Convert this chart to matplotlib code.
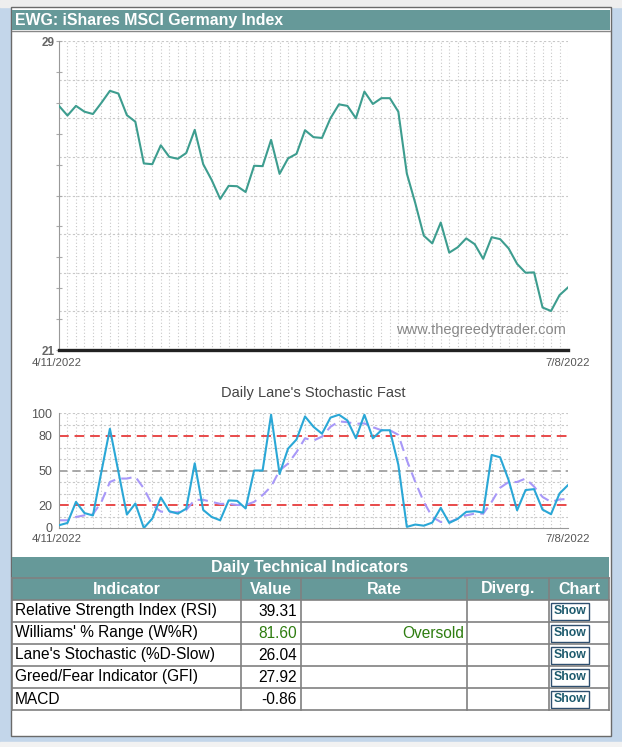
import numpy as np
import matplotlib.pyplot as plt
from matplotlib.patches import Rectangle

plt.rcParams['font.family'] = ['Liberation Sans', 'DejaVu Sans']

# Chart data, trading days 4/11/2022 .. 7/8/2022
title = 'EWG: iShares MSCI Germany Index'
start_date = '4/11/2022'
end_date = '7/8/2022'
price = [27.32, 27.07, 27.32, 27.17, 27.11, 27.40, 27.71, 27.64, 27.08, 26.91,
         25.83, 25.81, 26.30, 26.00, 25.95, 26.10, 26.70, 25.81, 25.40, 24.91,
         25.25, 25.24, 25.09, 25.77, 25.76, 26.44, 25.56, 25.96, 26.08, 26.69,
         26.51, 26.49, 27.00, 27.36, 27.32, 27.00, 27.69, 27.37, 27.52, 27.52,
         27.17, 25.57, 24.80, 23.96, 23.76, 24.30, 23.52, 23.66, 23.89, 23.74,
         23.36, 23.92, 23.87, 23.63, 23.23, 23.00, 23.01, 22.10, 22.01, 22.42, 22.62]
stoch_k = [2.4, 4.4, 22.7, 13, 10.9, 49, 86.3, 49, 11.7, 21.3,
           0, 8.2, 26.6, 14.6, 12.5, 16.8, 56.3, 15.7, 9.6, 6.7,
           24, 23.6, 17, 50, 50, 98.5, 47, 69, 77, 97,
           88, 82, 96, 98.5, 93.5, 78, 98.5, 78, 85, 85,
           55, 1, 3, 2, 4.7, 17.5, 4.4, 8, 14, 14.6,
           13.4, 63.5, 61.5, 41.7, 15.4, 33, 33.8, 16, 12, 30, 37.3]
stoch_d = [6.7, 6.7, 9.6, 11, 12, 22.7, 40, 43, 43, 44.6,
           34.4, 20, 14.3, 13.7, 13.7, 15.7, 24.5, 24.5, 22.7, 21,
           21, 20, 20, 22.7, 28.6, 36, 50, 56, 66, 78,
           76, 79.5, 88, 92.7, 92, 90.6, 91, 87.7, 85, 85,
           81, 59, 40, 22.7, 9.6, 5.2, 5.2, 8, 11, 12.5,
           12.5, 22.7, 35, 40, 40, 43, 36, 27, 22.7, 24.8, 25.3]

indicators = ['Relative Strength Index (RSI)', "Williams' % Range (W%R)",
              "Lane's Stochastic (%D-Slow)", 'Greed/Fear Indicator (GFI)', 'MACD']
values = ['39.31', '81.60', '26.04', '27.92', '-0.86']
rates = ['', 'Oversold', '', '', '']
headers = ['Indicator', 'Value', 'Rate', 'Diverg.', 'Chart']

W, H = 622, 747
TEAL = '#669999'
fig = plt.figure(figsize=(W / 100, H / 100), dpi=100)
fig.patch.set_facecolor('#c3d6ea')

# background layer in pixel coordinates
bg = fig.add_axes([0, 0, 1, 1])
bg.set_xlim(0, W)
bg.set_ylim(H, 0)
bg.axis('off')
bg.add_patch(Rectangle((0, 0), W, 7, color='#eeeeee'))
bg.add_patch(Rectangle((0, 742), W, 6, color='#f2f2f2'))
bg.add_patch(Rectangle((11, 7), 600, 729, facecolor='white', edgecolor='#6a6a6a', lw=1))
bg.add_patch(Rectangle((12, 10), 598, 20, facecolor=TEAL, edgecolor='none'))
bg.plot([12, 610], [30.5, 30.5], color='#888888', lw=1)
bg.text(15, 20, title, color='white', fontsize=11.4, fontweight='bold', va='center', ha='left')


def px_axes(x0, y0, x1, y1):
    return fig.add_axes([x0 / W, 1 - y1 / H, (x1 - x0) / W, (y1 - y0) / H])


x = np.arange(len(price))
grid_c = '#c8c8c8'

# price chart
ax = px_axes(59, 41, 568, 350)
ax.set_facecolor('none')
ax.set_xlim(0, len(price) - 1)
ax.set_ylim(21, 29)
for xi in x[1:]:
    ax.axvline(xi, color=grid_c, lw=0.8, ls=(0, (1, 2)), zorder=0)
for lvl in range(22, 30):
    ax.axhline(lvl, color=grid_c, lw=0.8, ls=(0, (2, 2)), zorder=0)
ax.plot(x, price, color='#3d9d8f', lw=1.5, zorder=3)
ax.spines[['top', 'right']].set_visible(False)
ax.spines['left'].set_color('#999999')
ax.spines['bottom'].set_color('#222222')
ax.spines['bottom'].set_linewidth(2.4)
ax.set_xticks([])
ax.set_yticks(np.linspace(21, 29, 11))
ax.set_yticklabels(['21'] + [''] * 9 + ['29'])
ax.tick_params(axis='y', direction='inout', length=4, color='#aaaaaa',
               labelsize=8.5, labelcolor='#666666', pad=1)
for lab in ax.get_yticklabels():
    lab.set_fontweight('bold')
ax.text(0.995, 0.065, 'www.thegreedytrader.com', transform=ax.transAxes, ha='right',
        va='center', fontsize=10.5, color='#888888')
bg.text(57, 362.5, start_date, ha='center', va='center', fontsize=8.2, color='#555555')
bg.text(590, 362.5, end_date, ha='right', va='center', fontsize=8.2, color='#555555')

# stochastic chart
bg.text(313, 393, "Daily Lane's Stochastic Fast", ha='center', va='center',
        fontsize=10.5, color='#444444')
ax2 = px_axes(59, 413, 568, 528)
ax2.set_facecolor('none')
ax2.set_xlim(0, len(stoch_k) - 1)
ax2.set_ylim(0, 100)
for xi in x[1:]:
    ax2.axvline(xi, color=grid_c, lw=0.8, ls=(0, (1, 2)), zorder=0)
for lvl in [10, 30, 40, 60, 70, 90, 100]:
    ax2.axhline(lvl, color=grid_c, lw=0.8, ls=(0, (2, 2)), zorder=0)
for lvl in [20, 80]:
    ax2.axhline(lvl, color='#e84a4a', lw=1.4, ls=(0, (5, 3)), zorder=1)
ax2.axhline(50, color='#999999', lw=1.2, ls=(0, (5, 3)), zorder=1)
ax2.plot(x, stoch_d, color='#a898f8', lw=1.5, ls=(0, (5, 3)), zorder=2)
ax2.plot(x, stoch_k, color='#2aa7d6', lw=1.5, zorder=3)
ax2.spines[['top', 'right']].set_visible(False)
ax2.spines[['left', 'bottom']].set_color('#999999')
ax2.set_xticks([])
ax2.set_yticks([0, 20, 50, 80, 100])
ax2.tick_params(axis='y', length=0, labelsize=9, labelcolor='#555555', pad=5)
bg.text(57, 539, start_date, ha='center', va='center', fontsize=8.2, color='#555555')
bg.text(590, 539, end_date, ha='right', va='center', fontsize=8.2, color='#555555')

# indicator table
col_x = [12, 241, 301, 467, 549, 609]
row_y = [578, 600, 622, 644, 666, 688, 710]
bg.add_patch(Rectangle((12, 557), 597, 43, facecolor=TEAL, edgecolor='none'))
bg.text(310, 567.5, 'Daily Technical Indicators', color='white', fontsize=11.5,
        fontweight='bold', ha='center', va='center')
line_c = '#808080'
for yy in row_y:
    bg.plot([12, 609], [yy, yy], color=line_c, lw=1.2)
for xx in col_x:
    bg.plot([xx, xx], [578, 710], color=line_c, lw=1.2)
for j, h in enumerate(headers):
    bg.text((col_x[j] + col_x[j + 1]) / 2, 589, h, color='white', fontsize=11.5,
            fontweight='bold', ha='center', va='center')
green = '#2e7d10'
for i, name in enumerate(indicators):
    yc = (row_y[i + 1] + row_y[i + 2]) / 2
    bg.text(15, yc, name, fontsize=11.2, color='black', ha='left', va='center')
    bg.text(297, yc, values[i], fontsize=11.2, ha='right', va='center',
            color=green if rates[i] == 'Oversold' else 'black')
    if rates[i]:
        bg.text(464, yc, rates[i], fontsize=11.2, ha='right', va='center', color=green)
    bg.add_patch(Rectangle((551, yc - 8.5), 38, 17, facecolor='white',
                           edgecolor='#2f4f6f', lw=1))
    bg.text(570, yc, 'Show', fontsize=8.8, fontweight='bold', color='#1e5b6e',
            ha='center', va='center')

fig.savefig('out.png', dpi=100)
